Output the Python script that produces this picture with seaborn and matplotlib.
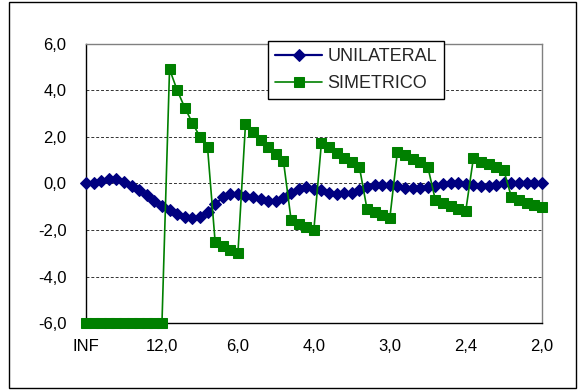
import numpy as np
import matplotlib
matplotlib.use("Agg")
import matplotlib.pyplot as plt
import seaborn as sns
from matplotlib.patches import Rectangle

# Category labels shown every 10 steps along the x axis
tick_labels = ["INF", "12,0", "6,0", "4,0", "3,0", "2,4", "2,0"]
tick_every = 10

unilateral = [
    0.00, 0.03, 0.10, 0.18, 0.20, 0.07, -0.10, -0.30, -0.50, -0.75,
    -0.97, -1.15, -1.30, -1.43, -1.50, -1.43, -1.23, -0.90, -0.60, -0.47,
    -0.45, -0.53, -0.58, -0.68, -0.77, -0.77, -0.62, -0.40, -0.26, -0.16,
    -0.24, -0.30, -0.40, -0.45, -0.43, -0.40, -0.30, -0.15, -0.07, -0.07,
    -0.08, -0.12, -0.18, -0.20, -0.20, -0.17, -0.10, -0.03, 0.00, 0.00,
    -0.03, -0.05, -0.10, -0.10, -0.07, 0.00, 0.03, 0.03, 0.03, 0.03,
    0.00,
]

simetrico = [
    -6.0, -6.0, -6.0, -6.0, -6.0, -6.0, -6.0, -6.0, -6.0, -6.0,
    -6.0, 4.90, 4.00, 3.25, 2.60, 2.00, 1.55, -2.50, -2.70, -2.85,
    -3.00, 2.55, 2.20, 1.85, 1.55, 1.25, 0.95, -1.55, -1.75, -1.88,
    -2.00, 1.75, 1.55, 1.30, 1.10, 0.93, 0.70, -1.10, -1.22, -1.35,
    -1.50, 1.35, 1.20, 1.05, 0.93, 0.72, -0.72, -0.86, -0.98, -1.08,
    -1.18, 1.07, 0.93, 0.85, 0.72, 0.57, -0.57, -0.72, -0.83, -0.93,
    -1.00,
]

y_ticks = [-6, -4, -2, 0, 2, 4, 6]

step = np.arange(len(unilateral))

sns.set_style("white")
plt.rcParams["font.family"] = ["Liberation Sans", "DejaVu Sans"]

W, H = 582, 392
fig = plt.figure(figsize=(W / 100, H / 100), dpi=100)
ax = fig.add_axes([86 / W, 1 - 323.3 / H, 455.7 / W, 279.8 / H])

sns.lineplot(x=step, y=unilateral, ax=ax, color="#000080", marker="D",
             markersize=6.5, markeredgecolor="#000080", linewidth=1.6,
             label="UNILATERAL", clip_on=False, zorder=3)
sns.lineplot(x=step, y=simetrico, ax=ax, color="#008000", marker="s",
             markersize=7, markeredgecolor="#008000", linewidth=1.2,
             label="SIMETRICO", clip_on=False, zorder=4)

ax.set_xlim(0, len(step) - 1)
ax.set_ylim(y_ticks[0], y_ticks[-1])
ax.set_xticks(np.arange(0, len(step), tick_every))
ax.set_xticklabels(tick_labels)
ax.set_yticks(y_ticks)
ax.set_yticklabels([f"{v:.1f}".replace(".", ",") for v in y_ticks])
ax.set_xlabel("")
ax.set_ylabel("")

ax.set_axisbelow(True)
ax.yaxis.grid(True, linestyle=(0, (3, 2)), color="#333333", linewidth=0.7)
ax.xaxis.grid(False)

for side in ("left", "bottom"):
    ax.spines[side].set_color("black")
    ax.spines[side].set_linewidth(1.0)
for side in ("top", "right"):
    ax.spines[side].set_color("#808080")
    ax.spines[side].set_linewidth(1.0)

ax.tick_params(axis="both", direction="out", length=4, width=0.8,
               color="black", labelsize=12, labelcolor="black")
ax.tick_params(axis="y", pad=10)
ax.tick_params(axis="x", pad=7)

leg = ax.legend(loc="upper left", bbox_to_anchor=(0.399, 1.009),
                borderaxespad=0, frameon=True, fancybox=False,
                edgecolor="black", framealpha=1, fontsize=13,
                handlelength=2.6, handletextpad=0.3, borderpad=0.4,
                labelspacing=0.55)
leg.get_frame().set_linewidth(1.0)

fig.patches.append(Rectangle((9 / W, 1 - 388 / H), (576 - 9) / W, (388 - 2) / H,
                             transform=fig.transFigure, fill=False,
                             edgecolor="black", linewidth=1.0))

fig.savefig("out.png", dpi=100)
